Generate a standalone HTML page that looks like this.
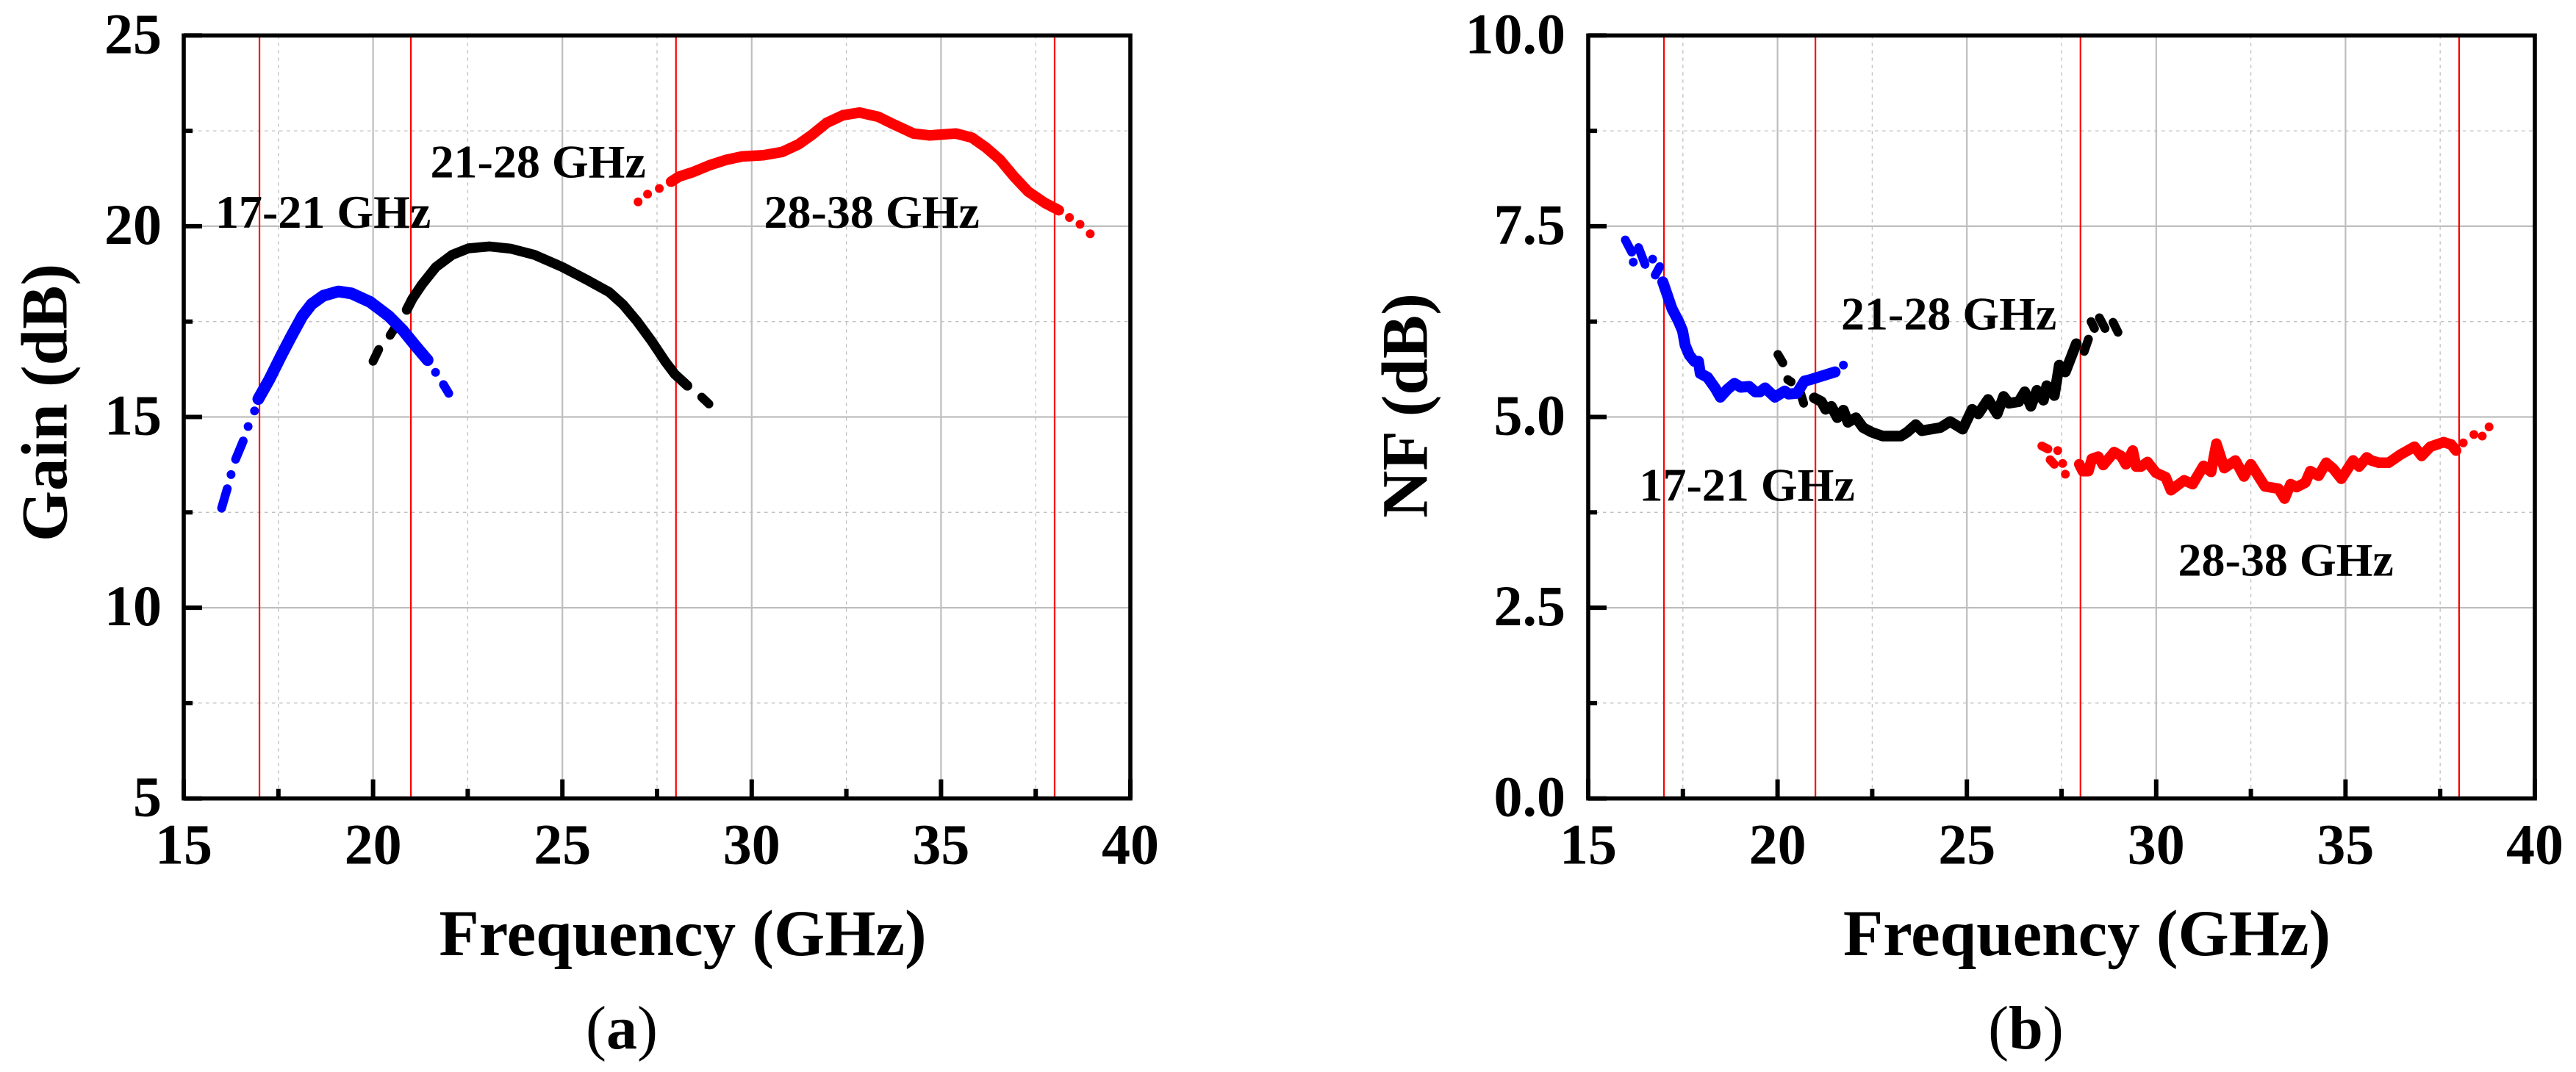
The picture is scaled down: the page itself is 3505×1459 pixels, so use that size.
<!DOCTYPE html>
<html lang="en">
<head>
<meta charset="utf-8">
<title>Gain and NF versus Frequency</title>
<style>
html,body{margin:0;padding:0;background:#fff;}
svg{display:block;}
text{font-family:"Liberation Serif",serif;fill:#000;}
.b{font-weight:bold;}
</style>
</head>
<body>
<svg id="fig" xmlns="http://www.w3.org/2000/svg" width="3505" height="1459" viewBox="0 0 3505 1459">
  <rect x="0" y="0" width="3505" height="1459" fill="#fff"/>
  <g id="panel-a"></g>
  <g id="panel-b"></g>

  <text class="b" x="929" y="1300" font-size="89" text-anchor="middle">Frequency (GHz)</text>
  <text class="b" transform="translate(90.5 548) rotate(-90)" font-size="89" text-anchor="middle">Gain (dB)</text>
  <text class="b" x="2839.5" y="1300" font-size="89" text-anchor="middle">Frequency (GHz)</text>
  <text class="b" transform="translate(1941.5 552) rotate(-90)" font-size="89" text-anchor="middle">NF (dB)</text>

  <text class="b" x="293" y="310" font-size="64">17-21 GHz</text>
  <text class="b" x="585.5" y="241.5" font-size="64">21-28 GHz</text>
  <text class="b" x="1039.5" y="310" font-size="64">28-38 GHz</text>
  <text class="b" x="2230.5" y="681.5" font-size="64">17-21 GHz</text>
  <text class="b" x="2505" y="448.5" font-size="64">21-28 GHz</text>
  <text class="b" x="2963.5" y="783.5" font-size="64">28-38 GHz</text>

  <text x="846" y="1427" font-size="84" text-anchor="middle">(<tspan class="b">a</tspan>)</text>
  <text x="2756.5" y="1427" font-size="84" text-anchor="middle">(<tspan class="b">b</tspan>)</text>
</svg>

<script>
// Shared x axis
const xTickLabels = ["15", "20", "25", "30", "35", "40"];
const xTickValues = [15, 20, 25, 30, 35, 40];
const xMinorValues = [17.5, 22.5, 27.5, 32.5, 37.5];
const bandEdges = [17, 21, 28, 38];

// Gain panel axis
const gainTickValues = [5, 10, 15, 20, 25];
const gainTickLabels = ["5", "10", "15", "20", "25"];
const gainMinorValues = [7.5, 12.5, 17.5, 22.5];

// NF panel axis
const nfTickValues = [0, 2.5, 5, 7.5, 10];
const nfTickLabels = ["0.0", "2.5", "5.0", "7.5", "10.0"];
const nfMinorValues = [1.25, 3.75, 6.25, 8.75];

// Gain series (null separates visible gaps)
const gainBlueFreq = [16.0,16.15,null,16.25,null,16.37,16.57,null,16.70,null,16.87,null,16.97,17.26,17.58,17.85,18.13,18.38,18.69,19.08,19.43,19.93,20.42,20.79,21.1,21.44,null,21.65,null,21.86,22.0];
const gainBlueVals = [12.61,13.12,null,13.49,null,13.89,14.37,null,14.75,null,15.16,null,15.47,15.98,16.62,17.13,17.64,17.96,18.18,18.29,18.24,18.01,17.64,17.27,16.89,16.49,null,16.17,null,15.85,15.62];
const gainBlackFreq = [20.0,20.15,null,20.45,20.6,null,20.89,21.04,21.29,21.66,22.09,22.52,23.08,23.64,24.26,25.0,25.62,26.24,26.61,26.98,27.35,27.72,27.97,28.3,null,28.68,28.87];
const gainBlackVals = [16.46,16.77,null,17.14,17.37,null,17.81,18.1,18.47,18.93,19.25,19.42,19.47,19.41,19.25,18.93,18.61,18.27,17.94,17.5,17.0,16.45,16.12,15.82,null,15.52,15.34];
const gainRedFreq = [27.0,null,27.25,null,27.56,null,27.87,28.08,28.45,28.89,29.32,29.75,30.31,30.81,31.24,31.61,31.98,32.41,32.85,33.34,33.71,34.27,34.7,35.39,35.82,36.19,36.56,36.93,37.3,37.74,38.11,null,38.39,null,38.67,null,38.94];
const gainRedVals = [20.64,null,20.84,null,20.99,null,21.17,21.3,21.42,21.6,21.74,21.83,21.86,21.95,22.15,22.41,22.71,22.91,22.98,22.87,22.69,22.43,22.38,22.43,22.32,22.06,21.74,21.3,20.91,20.61,20.42,null,20.23,null,20.05,null,19.8];

// NF series (null separates visible gaps)
const nfBlueFreq = [15.98,16.15,null,16.19,null,16.33,16.5,null,16.7,null,16.77,16.89,null,16.97,17.08,17.21,17.38,17.49,17.56,17.67,17.8,17.91,17.96,18.15,18.35,18.49,18.67,18.86,19.03,19.25,19.41,19.54,19.67,19.93,20.19,20.29,20.51,20.71,20.87,21.52,null,21.74];
const nfBlueVals = [7.32,7.16,null,7.03,null,7.22,7.0,null,7.07,null,6.86,6.97,null,6.77,6.61,6.42,6.26,6.13,5.94,5.81,5.73,5.73,5.57,5.52,5.38,5.26,5.36,5.44,5.39,5.4,5.33,5.33,5.38,5.26,5.34,5.3,5.31,5.47,5.49,5.59,null,5.68];
const nfBlackFreq = [20.01,20.14,null,20.27,20.36,null,20.61,20.69,null,20.97,21.16,21.27,21.42,21.58,21.74,21.86,22.07,22.26,22.49,22.78,23.26,23.42,23.65,23.81,24.3,24.56,24.89,25.14,25.3,25.56,25.8,25.97,26.11,26.37,26.53,26.69,26.85,27.02,27.11,27.31,27.44,27.6,27.89,null,28.1,28.21,null,28.28,28.37,null,28.5,28.65,null,28.86,28.99];
const nfBlackVals = [5.82,5.71,null,5.49,5.46,null,5.31,5.18,null,5.25,5.2,5.1,5.14,4.99,5.09,4.93,4.99,4.86,4.8,4.75,4.75,4.8,4.9,4.82,4.86,4.94,4.84,5.1,5.04,5.23,5.04,5.27,5.18,5.2,5.33,5.14,5.35,5.22,5.41,5.28,5.68,5.59,5.96,null,5.86,6.02,null,6.25,6.16,null,6.3,6.16,null,6.24,6.11];
const nfRedFreq = [26.98,27.14,null,27.4,null,27.2,27.31,null,27.53,null,27.6,null,27.97,28.06,28.21,28.3,28.47,28.6,28.89,29.07,29.2,29.38,29.47,29.6,29.77,29.99,30.25,30.39,30.74,30.96,31.25,31.45,31.59,31.8,32.09,32.32,32.5,32.87,33.23,33.39,33.55,33.71,33.94,34.07,34.29,34.49,34.68,34.89,35.2,35.36,35.56,35.68,35.88,36.14,36.46,36.82,37.01,37.24,37.59,37.79,37.92,null,38.11,null,38.39,null,38.61,null,38.79];
const nfRedVals = [4.62,4.58,null,4.56,null,4.44,4.38,null,4.39,null,4.25,null,4.38,4.29,4.29,4.45,4.48,4.37,4.54,4.49,4.38,4.56,4.35,4.35,4.41,4.27,4.21,4.04,4.17,4.12,4.36,4.28,4.65,4.33,4.43,4.22,4.38,4.09,4.06,3.93,4.12,4.08,4.14,4.29,4.23,4.4,4.32,4.19,4.43,4.35,4.47,4.43,4.4,4.4,4.51,4.61,4.49,4.61,4.67,4.64,4.56,null,4.66,null,4.77,null,4.75,null,4.87];

const NS = "http://www.w3.org/2000/svg";
const plotTop = 48.3, plotBottom = 1086.7, xSpan = 1288;

function makeX(left) { return function (f) { return left + (f - 15) / 25 * xSpan; }; }
function makeY(min, max) { return function (v) { return plotBottom - (v - min) / (max - min) * (plotBottom - plotTop); }; }

function vline(parent, x, y1, y2, color, width, dash) {
  const el = document.createElementNS(NS, "line");
  el.setAttribute("x1", x); el.setAttribute("x2", x);
  el.setAttribute("y1", y1); el.setAttribute("y2", y2);
  el.setAttribute("stroke", color); el.setAttribute("stroke-width", width);
  if (dash) el.setAttribute("stroke-dasharray", dash);
  parent.appendChild(el);
  return el;
}
function hline(parent, y, x1, x2, color, width, dash) {
  const el = document.createElementNS(NS, "line");
  el.setAttribute("y1", y); el.setAttribute("y2", y);
  el.setAttribute("x1", x1); el.setAttribute("x2", x2);
  el.setAttribute("stroke", color); el.setAttribute("stroke-width", width);
  if (dash) el.setAttribute("stroke-dasharray", dash);
  parent.appendChild(el);
  return el;
}
function label(parent, x, y, str, anchor) {
  const el = document.createElementNS(NS, "text");
  el.setAttribute("x", x); el.setAttribute("y", y);
  el.setAttribute("font-size", "78");
  el.setAttribute("font-weight", "bold");
  el.setAttribute("text-anchor", anchor);
  el.textContent = str;
  parent.appendChild(el);
  return el;
}
function strokePath(parent, d, color, width) {
  const el = document.createElementNS(NS, "path");
  el.setAttribute("d", d);
  el.setAttribute("fill", "none");
  el.setAttribute("stroke", color);
  el.setAttribute("stroke-width", width);
  el.setAttribute("stroke-linecap", "round");
  el.setAttribute("stroke-linejoin", "round");
  parent.appendChild(el);
}
function series(parent, freq, vals, X, Y, color, mainWidth) {
  const g = document.createElementNS(NS, "g");
  parent.appendChild(g);
  let run = [], shortD = "", mainD = "";
  function flush() {
    if (!run.length) return;
    let d = "";
    run.forEach(function (p, i) { d += (i ? "L" : "M") + p; });
    if (run.length === 1) d += "L" + run[0];
    if (run.length >= 5) mainD += d; else shortD += d;
    run = [];
  }
  for (let i = 0; i < freq.length; i++) {
    if (freq[i] === null || vals[i] === null) { flush(); continue; }
    run.push(X(freq[i]).toFixed(1) + " " + Y(vals[i]).toFixed(1));
  }
  flush();
  strokePath(g, shortD, color, 12);
  strokePath(g, mainD, color, mainWidth);
  return g;
}

function drawPanel(parent, left, yMin, yMax, yTicks, yLabels, yMinors, labelRight, seriesFn) {
  const X = makeX(left), Y = makeY(yMin, yMax), right = left + xSpan;
  xMinorValues.forEach(function (v) {
    const g = vline(parent, X(v), plotTop, plotBottom, "#c0c0c0", 1.3, "4.5 5.5");
    
    
  });
  yMinors.forEach(function (v) {
    const g = hline(parent, Y(v), left, right, "#c0c0c0", 1.3, "4.5 5.5");
    
    
  });
  xTickValues.forEach(function (v) {
    const g = vline(parent, X(v), plotTop, plotBottom, "#bebebe", 2.2);
    
    
  });
  yTicks.forEach(function (v) {
    const g = hline(parent, Y(v), left, right, "#bebebe", 2.2);
    
    
  });
  bandEdges.forEach(function (v) {
    const r = vline(parent, X(v), plotTop, plotBottom, "#ff0000", 2.2);
    
    
  });
  seriesFn(parent, X, Y);

  // frame
  const frame = document.createElementNS(NS, "rect");
  frame.setAttribute("x", left);
  frame.setAttribute("y", plotTop);
  frame.setAttribute("width", xSpan);
  frame.setAttribute("height", plotBottom - plotTop);
  frame.setAttribute("fill", "none");
  frame.setAttribute("stroke", "#000");
  frame.setAttribute("stroke-width", "5.6");
  
  
  parent.appendChild(frame);

  // ticks and tick labels
  xTickValues.forEach(function (v, i) {
    const t = vline(parent, X(v), plotBottom - 26, plotBottom, "#000", 6);
    
    
    const l = label(parent, X(v), 1175.5, xTickLabels[i], "middle");
    
    
  });
  xMinorValues.forEach(function (v) {
    const t = vline(parent, X(v), plotBottom - 13, plotBottom, "#000", 6);
    
    
  });
  yTicks.forEach(function (v, i) {
    const t = hline(parent, Y(v), left, left + 25, "#000", 6);
    
    
    const l = label(parent, labelRight, Y(v) + 24, yLabels[i], "end");
    
    
  });
  yMinors.forEach(function (v) {
    const t = hline(parent, Y(v), left, left + 12, "#000", 6);
    
    
  });
}

drawPanel(document.getElementById("panel-a"), 250, 5, 25, gainTickValues, gainTickLabels, gainMinorValues, 220, function (p, X, Y) {
  const black = series(p, gainBlackFreq, gainBlackVals, X, Y, "#000000", 13.5);
  
  
  const red = series(p, gainRedFreq, gainRedVals, X, Y, "#ff0000", 14.5);
  
  
  const blue = series(p, gainBlueFreq, gainBlueVals, X, Y, "#0000ff", 16);
  
  
});

drawPanel(document.getElementById("panel-b"), 2161, 0, 10, nfTickValues, nfTickLabels, nfMinorValues, 2130, function (p, X, Y) {
  const black = series(p, nfBlackFreq, nfBlackVals, X, Y, "#000000", 14.5);
  
  
  const red = series(p, nfRedFreq, nfRedVals, X, Y, "#ff0000", 14.5);
  
  
  const blue = series(p, nfBlueFreq, nfBlueVals, X, Y, "#0000ff", 15);
  
  
});
</script>
</body>
</html>
